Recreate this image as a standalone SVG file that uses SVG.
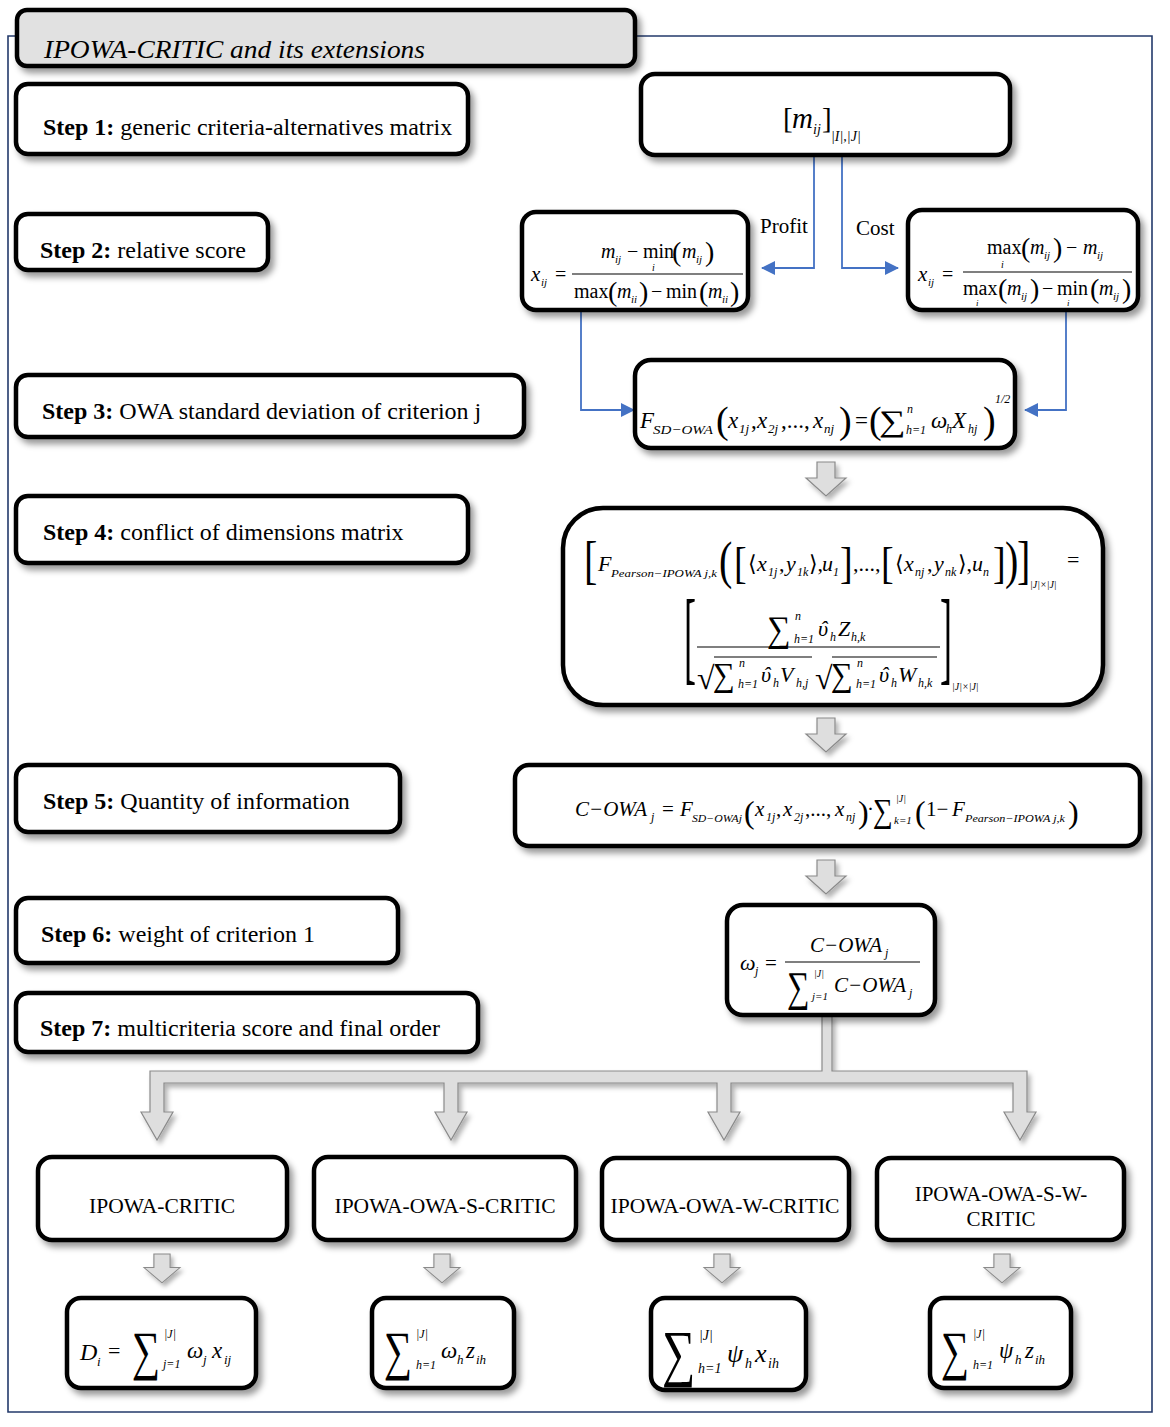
<svg xmlns="http://www.w3.org/2000/svg" width="1170" height="1427" viewBox="0 0 1170 1427">
<defs>
<filter id="sh" x="-10%" y="-10%" width="130%" height="140%">
<feDropShadow dx="4" dy="5" stdDeviation="3" flood-color="#000" flood-opacity="0.4"/>
</filter>
<filter id="sh2" x="-20%" y="-20%" width="150%" height="150%">
<feDropShadow dx="3" dy="4" stdDeviation="2.5" flood-color="#000" flood-opacity="0.3"/>
</filter>
<marker id="ah" viewBox="0 0 14 14" refX="13" refY="7" markerWidth="14" markerHeight="14" markerUnits="userSpaceOnUse" orient="auto">
<path d="M0,0 L14,7 L0,14 Z" fill="#4472c4"/>
</marker>
<path id="barrow" d="M-9,0 H9 V16 H20 L0,34 L-20,16 H-9 Z"/>
</defs>
<style>
.box{fill:#fff;stroke:#000;stroke-width:4.5;filter:url(#sh)}
.hdr{fill:#e1e1e1;stroke:#000;stroke-width:4.5;filter:url(#sh)}
.step{font-family:"Liberation Serif",serif;font-size:24px;fill:#000}
.lbl{font-family:"Liberation Serif",serif;font-size:21px;fill:#000}
.m{font-family:"Liberation Serif","DejaVu Serif",serif;font-style:italic;fill:#000}
.mu{font-family:"Liberation Serif","DejaVu Serif",serif;font-style:normal;fill:#000}
.bar{stroke:#000;stroke-width:1.2}
.blue{stroke:#4472c4;stroke-width:1.8;fill:none;marker-end:url(#ah)}
.garrow{fill:#dedede;stroke:#8a8a8a;stroke-width:1.2;filter:url(#sh2)}
</style>

<path id="frame" d="M636,36 H1152 V1412 H8 V36 H17" fill="none" stroke="#233a6b" stroke-width="1.6"/>

<g id="header">
<rect class="hdr" x="17" y="10" width="618" height="56" rx="10"/>
<text class="m" x="44" y="58" font-size="26" textLength="381" lengthAdjust="spacingAndGlyphs">IPOWA-CRITIC and its extensions</text>
</g>

<g id="step1"><rect class="box" x="16" y="84" width="452" height="70" rx="12"/><text class="step" x="43" y="135"><tspan font-weight="bold">Step 1:</tspan> generic criteria-alternatives matrix</text></g>
<g id="step2"><rect class="box" x="16" y="214" width="252" height="56" rx="12"/><text class="step" x="40" y="258"><tspan font-weight="bold">Step 2:</tspan> relative score</text></g>
<g id="step3"><rect class="box" x="16" y="375" width="508" height="62" rx="12"/><text class="step" x="42" y="419"><tspan font-weight="bold">Step 3:</tspan> OWA standard deviation of criterion j</text></g>
<g id="step4"><rect class="box" x="16" y="496" width="452" height="67" rx="12"/><text class="step" x="43" y="540"><tspan font-weight="bold">Step 4:</tspan> conflict of dimensions matrix</text></g>
<g id="step5"><rect class="box" x="16" y="765" width="384" height="67" rx="12"/><text class="step" x="43" y="809"><tspan font-weight="bold">Step 5:</tspan> Quantity of information</text></g>
<g id="step6"><rect class="box" x="16" y="898" width="382" height="65" rx="12"/><text class="step" x="41" y="942"><tspan font-weight="bold">Step 6:</tspan> weight of criterion 1</text></g>
<g id="step7"><rect class="box" x="16" y="993" width="462" height="59" rx="12"/><text class="step" x="40" y="1036"><tspan font-weight="bold">Step 7:</tspan> multicriteria score and final order</text></g>

<g id="connectors">
<path class="blue" d="M814,155 V268 H762"/>
<path class="blue" d="M842,155 V268 H898"/>
<path class="blue" d="M581,310 V410 H634"/>
<path class="blue" d="M1066,310 V410 H1025"/>
<use href="#barrow" class="garrow" transform="translate(826,462)"/>
<use href="#barrow" class="garrow" transform="translate(826,718)"/>
<use href="#barrow" class="garrow" transform="translate(826,860)"/>
<path class="garrow" d="M822,1015 H832 V1071 H1027 V1112 H1036 L1020,1140 L1004,1112 H1013 V1083 H731 V1112 H740 L724,1140 L708,1112 H717 V1083 H458 V1112 H467 L451,1140 L435,1112 H444 V1083 H164 V1112 H173 L157,1140 L141,1112 H150 V1071 H822 Z"/>
<use href="#barrow" class="garrow" transform="translate(162,1254) scale(0.9,0.85)"/>
<use href="#barrow" class="garrow" transform="translate(442,1254) scale(0.9,0.85)"/>
<use href="#barrow" class="garrow" transform="translate(722,1254) scale(0.9,0.85)"/>
<use href="#barrow" class="garrow" transform="translate(1002,1254) scale(0.9,0.85)"/>
<text class="lbl" x="760" y="233">Profit</text>
<text class="lbl" x="856" y="235">Cost</text>
</g>

<g id="matrix">
<rect class="box" x="641" y="74" width="369" height="81" rx="14"/>
<text class="mu" x="783" y="128" font-size="29">[</text>
<text class="m" x="792" y="128" font-size="29">m</text>
<text class="m" x="813" y="134" font-size="14">ij</text>
<text class="mu" x="822" y="128" font-size="29">]</text>
<text class="m" x="831" y="141" font-size="14">|I|,|J|</text>
</g>

<g id="profit">
<rect class="box" x="522" y="212" width="226" height="98" rx="14"/>
<text class="m" x="531" y="281" font-size="21">x</text>
<text class="m" x="541" y="286" font-size="11">ij</text>
<text class="mu" x="555" y="281" font-size="20">=</text>
<text class="m" x="601" y="258" font-size="20">m</text>
<text class="m" x="615" y="263" font-size="11">ij</text>
<text class="mu" x="627" y="258" font-size="20">−</text>
<text class="mu" x="643" y="258" font-size="20">min</text>
<text class="m" x="652" y="271" font-size="10">i</text>
<text class="mu" x="672" y="261" font-size="28">(</text>
<text class="m" x="682" y="258" font-size="20">m</text>
<text class="m" x="696" y="263" font-size="11">ij</text>
<text class="mu" x="705" y="261" font-size="28">)</text>
<line class="bar" x1="572" y1="274" x2="743" y2="274"/>
<text class="mu" x="574" y="298" font-size="20">max</text>
<text class="mu" x="608" y="301" font-size="28">(</text>
<text class="m" x="617" y="298" font-size="20">m</text>
<text class="m" x="631" y="303" font-size="11">ii</text>
<text class="mu" x="639" y="301" font-size="28">)</text>
<text class="mu" x="651" y="298" font-size="20">−</text>
<text class="mu" x="666" y="298" font-size="20">min</text>
<text class="mu" x="699" y="301" font-size="28">(</text>
<text class="m" x="708" y="298" font-size="20">m</text>
<text class="m" x="722" y="303" font-size="11">ii</text>
<text class="mu" x="730" y="301" font-size="28">)</text>
</g>

<g id="cost">
<rect class="box" x="908" y="210" width="230" height="100" rx="14"/>
<text class="m" x="918" y="281" font-size="21">x</text>
<text class="m" x="928" y="286" font-size="11">ij</text>
<text class="mu" x="942" y="281" font-size="20">=</text>
<text class="mu" x="987" y="254" font-size="20">max</text>
<text class="m" x="1001" y="268" font-size="10">i</text>
<text class="mu" x="1021" y="257" font-size="28">(</text>
<text class="m" x="1030" y="254" font-size="20">m</text>
<text class="m" x="1044" y="259" font-size="11">ij</text>
<text class="mu" x="1053" y="257" font-size="28">)</text>
<text class="mu" x="1066" y="254" font-size="20">−</text>
<text class="m" x="1083" y="254" font-size="20">m</text>
<text class="m" x="1097" y="259" font-size="11">ij</text>
<line class="bar" x1="963" y1="272" x2="1132" y2="272"/>
<text class="mu" x="963" y="295" font-size="20">max</text>
<text class="m" x="976" y="306" font-size="9">i</text>
<text class="mu" x="998" y="298" font-size="28">(</text>
<text class="m" x="1007" y="295" font-size="20">m</text>
<text class="m" x="1021" y="300" font-size="11">ij</text>
<text class="mu" x="1030" y="298" font-size="28">)</text>
<text class="mu" x="1042" y="295" font-size="20">−</text>
<text class="mu" x="1057" y="295" font-size="20">min</text>
<text class="m" x="1067" y="306" font-size="9">i</text>
<text class="mu" x="1090" y="298" font-size="28">(</text>
<text class="m" x="1099" y="295" font-size="20">m</text>
<text class="m" x="1113" y="300" font-size="11">ij</text>
<text class="mu" x="1122" y="298" font-size="28">)</text>
</g>

<g id="sdowa">
<rect class="box" x="635" y="360" width="380" height="88" rx="16"/>
<text class="m" x="640" y="428" font-size="23">F</text>
<text class="m" x="653" y="434" font-size="13" textLength="60" lengthAdjust="spacingAndGlyphs">SD−OWA</text>
<text class="mu" x="716" y="433" font-size="38">(</text>
<text class="m" x="728" y="428" font-size="23">x</text>
<text class="m" x="739" y="433" font-size="13">1j</text>
<text class="mu" x="751" y="428" font-size="23">,</text>
<text class="m" x="757" y="428" font-size="23">x</text>
<text class="m" x="768" y="433" font-size="13">2j</text>
<text class="mu" x="781" y="428" font-size="23">,...,</text>
<text class="m" x="813" y="428" font-size="23">x</text>
<text class="m" x="824" y="433" font-size="13">nj</text>
<text class="mu" x="839" y="433" font-size="38">)</text>
<text class="mu" x="855" y="428" font-size="23">=</text>
<text class="mu" x="869" y="433" font-size="38">(</text>
<text class="mu" transform="translate(879,431) scale(1.25,1)" font-size="30">∑</text>
<text class="m" x="907" y="413" font-size="12">n</text>
<text class="m" x="906" y="434" font-size="12">h=1</text>
<text class="m" x="931" y="428" font-size="23">ω</text>
<text class="m" x="946" y="433" font-size="12">h</text>
<text class="m" x="952" y="428" font-size="23">X</text>
<text class="m" x="968" y="433" font-size="12">hj</text>
<text class="mu" x="983" y="433" font-size="38">)</text>
<text class="m" x="995" y="403" font-size="12">1/2</text>
</g>

<g id="pearson">
<rect class="box" x="563" y="508" width="540" height="197" rx="40"/>
<text class="mu" transform="translate(584,578) scale(1,1.3)" font-size="40">[</text>
<text class="m" x="598" y="571" font-size="22">F</text>
<text class="m" x="611" y="577" font-size="11" textLength="106" lengthAdjust="spacingAndGlyphs">Pearson−IPOWA j,k</text>
<text class="mu" transform="translate(719,578) scale(1,1.3)" font-size="40">(</text>
<text class="mu" transform="translate(734,578) scale(1,1.15)" font-size="38">[</text>
<text class="mu" x="748" y="571" font-size="22">⟨</text>
<text class="m" x="757" y="571" font-size="22">x</text>
<text class="m" x="768" y="576" font-size="12">1j</text>
<text class="mu" x="779" y="571" font-size="22">,</text>
<text class="m" x="786" y="571" font-size="22">y</text>
<text class="m" x="797" y="576" font-size="12">1k</text>
<text class="mu" x="809" y="571" font-size="22">⟩,</text>
<text class="m" x="822" y="571" font-size="22">u</text>
<text class="m" x="833" y="576" font-size="12">1</text>
<text class="mu" transform="translate(840,578) scale(1,1.15)" font-size="38">]</text>
<text class="mu" x="853" y="571" font-size="22">,...,</text>
<text class="mu" transform="translate(881,578) scale(1,1.15)" font-size="38">[</text>
<text class="mu" x="895" y="571" font-size="22">⟨</text>
<text class="m" x="904" y="571" font-size="22">x</text>
<text class="m" x="915" y="576" font-size="12">nj</text>
<text class="mu" x="927" y="571" font-size="22">,</text>
<text class="m" x="934" y="571" font-size="22">y</text>
<text class="m" x="945" y="576" font-size="12">nk</text>
<text class="mu" x="958" y="571" font-size="22">⟩,</text>
<text class="m" x="972" y="571" font-size="22">u</text>
<text class="m" x="983" y="576" font-size="12">n</text>
<text class="mu" transform="translate(993,578) scale(1,1.15)" font-size="38">]</text>
<text class="mu" transform="translate(1005,578) scale(1,1.3)" font-size="40">)</text>
<text class="mu" transform="translate(1017,578) scale(1,1.3)" font-size="40">]</text>
<text class="m" x="1030" y="588" font-size="10">|J|×|J|</text>
<text class="mu" x="1067" y="567" font-size="22">=</text>

<text class="mu" transform="translate(684,671) scale(1,2.9)" font-size="36">[</text>
<text class="mu" transform="translate(767,641) scale(1.1,1.2)" font-size="30">∑</text>
<text class="m" x="795" y="620" font-size="12">n</text>
<text class="m" x="794" y="643" font-size="12">h=1</text>
<text class="m" x="818" y="636" font-size="22">υ</text>
<text class="m" x="820" y="636" font-size="22">ˆ</text>
<text class="m" x="830" y="641" font-size="12">h</text>
<text class="m" x="838" y="636" font-size="22">Z</text>
<text class="m" x="851" y="641" font-size="12">h,k</text>
<line class="bar" x1="697" y1="647" x2="940" y2="647"/>
<text class="mu" x="697" y="689" font-size="32">√</text>
<line class="bar" x1="714" y1="657" x2="812" y2="657"/>
<text class="mu" transform="translate(713,686) scale(1.1,1.2)" font-size="28">∑</text>
<text class="m" x="739" y="667" font-size="12">n</text>
<text class="m" x="738" y="688" font-size="12">h=1</text>
<text class="m" x="761" y="682" font-size="22">υ</text>
<text class="m" x="763" y="682" font-size="22">ˆ</text>
<text class="m" x="773" y="687" font-size="12">h</text>
<text class="m" x="780" y="682" font-size="22">V</text>
<text class="m" x="796" y="687" font-size="12">h,j</text>
<text class="mu" x="815" y="689" font-size="32">√</text>
<line class="bar" x1="832" y1="657" x2="937" y2="657"/>
<text class="mu" transform="translate(831,686) scale(1.1,1.2)" font-size="28">∑</text>
<text class="m" x="857" y="667" font-size="12">n</text>
<text class="m" x="856" y="688" font-size="12">h=1</text>
<text class="m" x="879" y="682" font-size="22">υ</text>
<text class="m" x="881" y="682" font-size="22">ˆ</text>
<text class="m" x="891" y="687" font-size="12">h</text>
<text class="m" x="898" y="682" font-size="22">W</text>
<text class="m" x="918" y="687" font-size="12">h,k</text>
<text class="mu" transform="translate(940,671) scale(1,2.9)" font-size="36">]</text>
<text class="m" x="952" y="690" font-size="10">|J|×|J|</text>
</g>

<g id="cowa">
<rect class="box" x="515" y="765" width="625" height="81" rx="14"/>
<text class="m" x="575" y="816" font-size="21">C−OWA</text>
<text class="m" x="651" y="821" font-size="12">j</text>
<text class="mu" x="662" y="816" font-size="21">=</text>
<text class="m" x="680" y="816" font-size="21">F</text>
<text class="m" x="692" y="822" font-size="11" textLength="50" lengthAdjust="spacingAndGlyphs">SD−OWAj</text>
<text class="mu" x="744" y="823" font-size="32">(</text>
<text class="m" x="755" y="816" font-size="21">x</text>
<text class="m" x="766" y="821" font-size="12">1j</text>
<text class="mu" x="776" y="816" font-size="21">,</text>
<text class="m" x="783" y="816" font-size="21">x</text>
<text class="m" x="794" y="821" font-size="12">2j</text>
<text class="mu" x="805" y="816" font-size="21">,...,</text>
<text class="m" x="835" y="816" font-size="21">x</text>
<text class="m" x="846" y="821" font-size="12">nj</text>
<text class="mu" x="858" y="823" font-size="32">)</text>
<text class="mu" x="867" y="816" font-size="21">·</text>
<text class="mu" transform="translate(873,822) scale(1,1.2)" font-size="28">∑</text>
<text class="m" x="896" y="802" font-size="10">|J|</text>
<text class="m" x="894" y="824" font-size="11">k=1</text>
<text class="mu" x="915" y="823" font-size="32">(</text>
<text class="mu" x="926" y="816" font-size="21">1−</text>
<text class="m" x="952" y="816" font-size="21">F</text>
<text class="m" x="965" y="822" font-size="11" textLength="100" lengthAdjust="spacingAndGlyphs">Pearson−IPOWA j,k</text>
<text class="mu" x="1068" y="823" font-size="32">)</text>
</g>

<g id="weight">
<rect class="box" x="727" y="905" width="208" height="110" rx="16"/>
<text class="m" x="740" y="970" font-size="22">ω</text>
<text class="m" x="755" y="975" font-size="12">j</text>
<text class="mu" x="765" y="970" font-size="21">=</text>
<text class="m" x="810" y="952" font-size="21">C−OWA</text>
<text class="m" x="885" y="957" font-size="12">j</text>
<line class="bar" x1="785" y1="962" x2="920" y2="962"/>
<text class="mu" transform="translate(787,1001) scale(1.05,1.4)" font-size="30">∑</text>
<text class="m" x="814" y="977" font-size="10">|J|</text>
<text class="m" x="812" y="1000" font-size="11">j=1</text>
<text class="m" x="834" y="992" font-size="21">C−OWA</text>
<text class="m" x="909" y="997" font-size="12">j</text>
</g>

<g id="m1"><rect class="box" x="38" y="1157" width="249" height="83" rx="14"/><text class="lbl" x="162" y="1213" text-anchor="middle" textLength="146" lengthAdjust="spacingAndGlyphs">IPOWA-CRITIC</text></g>
<g id="m2"><rect class="box" x="314" y="1157" width="262" height="83" rx="14"/><text class="lbl" x="445" y="1213" text-anchor="middle" textLength="221" lengthAdjust="spacingAndGlyphs">IPOWA-OWA-S-CRITIC</text></g>
<g id="m3"><rect class="box" x="602" y="1158" width="247" height="82" rx="14"/><text class="lbl" x="725" y="1213" text-anchor="middle" textLength="229" lengthAdjust="spacingAndGlyphs">IPOWA-OWA-W-CRITIC</text></g>
<g id="m4"><rect class="box" x="877" y="1158" width="247" height="82" rx="14"/><text class="lbl" x="1001" y="1201" text-anchor="middle">IPOWA-OWA-S-W-</text><text class="lbl" x="1001" y="1226" text-anchor="middle">CRITIC</text></g>

<g id="f1">
<rect class="box" x="67" y="1298" width="189" height="90" rx="14"/>
<text class="m" x="80" y="1360" font-size="24">D</text>
<text class="m" x="97" y="1366" font-size="13">i</text>
<text class="mu" x="108" y="1358" font-size="22">=</text>
<text class="mu" transform="translate(132,1369) scale(1.1,1.5)" font-size="36">∑</text>
<text class="m" x="164" y="1338" font-size="12">|J|</text>
<text class="m" x="163" y="1368" font-size="12">j=1</text>
<text class="m" x="187" y="1358" font-size="23">ω</text>
<text class="m" x="203" y="1364" font-size="13">j</text>
<text class="m" x="212" y="1358" font-size="23">x</text>
<text class="m" x="224" y="1364" font-size="13">ij</text>
</g>
<g id="f2">
<rect class="box" x="372" y="1298" width="142" height="90" rx="14"/>
<text class="mu" transform="translate(384,1369) scale(1.1,1.5)" font-size="36">∑</text>
<text class="m" x="416" y="1338" font-size="12">|J|</text>
<text class="m" x="416" y="1369" font-size="12">h=1</text>
<text class="m" x="441" y="1358" font-size="23">ω</text>
<text class="m" x="457" y="1364" font-size="13">h</text>
<text class="m" x="466" y="1358" font-size="23">z</text>
<text class="m" x="476" y="1364" font-size="13">ih</text>
</g>
<g id="f3">
<rect class="box" x="651" y="1298" width="155" height="92" rx="14"/>
<text class="mu" transform="translate(662,1374) scale(1.3,1.75)" font-size="36">∑</text>
<text class="m" x="699" y="1340" font-size="14">|J|</text>
<text class="m" x="698" y="1373" font-size="14">h=1</text>
<text class="m" x="727" y="1362" font-size="26">ψ</text>
<text class="m" x="745" y="1368" font-size="14">h</text>
<text class="m" x="755" y="1362" font-size="26">x</text>
<text class="m" x="768" y="1368" font-size="14">ih</text>
</g>
<g id="f4">
<rect class="box" x="930" y="1298" width="141" height="90" rx="14"/>
<text class="mu" transform="translate(941,1369) scale(1.1,1.5)" font-size="36">∑</text>
<text class="m" x="973" y="1338" font-size="12">|J|</text>
<text class="m" x="973" y="1369" font-size="12">h=1</text>
<text class="m" x="999" y="1358" font-size="23">ψ</text>
<text class="m" x="1015" y="1364" font-size="13">h</text>
<text class="m" x="1025" y="1358" font-size="23">z</text>
<text class="m" x="1035" y="1364" font-size="13">ih</text>
</g>
</svg>
